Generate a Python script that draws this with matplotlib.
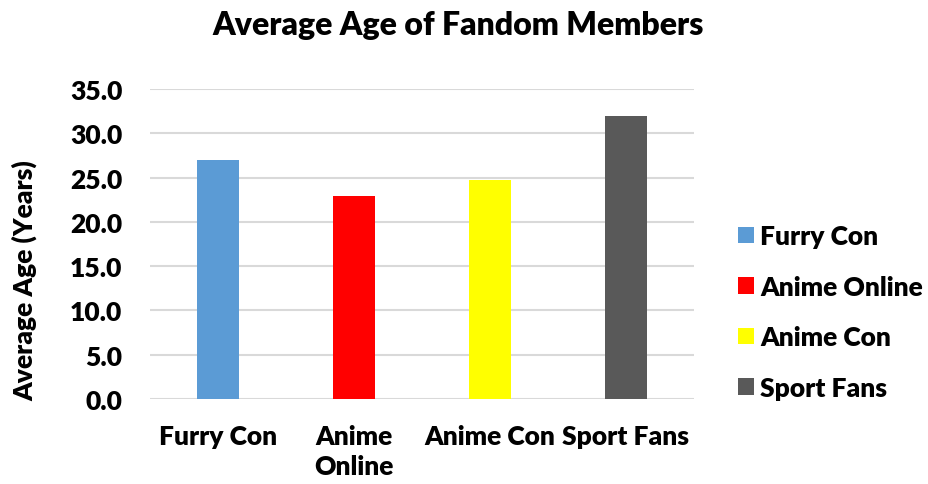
import matplotlib
matplotlib.use("Agg")
import matplotlib.pyplot as plt
from matplotlib.patches import Patch

categories = ["Furry Con", "Anime Online", "Anime Con", "Sport Fans"]
tick_labels = ["Furry Con", "Anime\nOnline", "Anime Con", "Sport Fans"]
values = [27.0, 22.9, 24.7, 32.0]
colors = ["#5B9BD5", "#FF0000", "#FFFF00", "#595959"]
yticks = [0, 5, 10, 15, 20, 25, 30, 35]

plt.rcParams['font.family'] = ['Lato', 'DejaVu Sans']
W = 'heavy'
FS = 19

fig = plt.figure(figsize=(9.29, 4.85), dpi=100)
ax = fig.add_axes([150/929, 1-400/485, 544/929, 310/485])

x = list(range(len(categories)))
ax.bar(x, values, width=0.31, color=colors, zorder=3)
ax.set_xlim(-0.5, len(categories) - 0.5)
ax.set_ylim(0, 35)
ax.set_yticks(yticks)
ax.set_yticklabels([f"{v:.1f}" for v in yticks], fontsize=FS, fontweight=W)
ax.set_xticks(x)
ax.set_xticklabels(tick_labels, fontsize=FS, fontweight=W, linespacing=1.3)
ax.tick_params(axis='both', length=0)
ax.tick_params(axis='y', pad=20)
ax.tick_params(axis='x', pad=18)
ax.grid(axis='y', color='#D9D9D9', linewidth=1.5, zorder=0)
for s in ax.spines.values():
    s.set_visible(False)

fig.text(458/929, 1-25/485, "Average Age of Fandom Members", ha='center', va='center',
         fontsize=23, fontweight=W)
fig.text(25/929, 1-281/485, "Average Age (Years)", rotation=90, ha='center', va='center',
         fontsize=FS, fontweight=W)

handles = [Patch(facecolor=c, edgecolor='none') for c in colors]
leg = fig.legend(handles, categories, loc='center left', bbox_to_anchor=(714/929, 1-313/485),
                 frameon=False, handlelength=0.6, handleheight=0.6,
                 handletextpad=0.25, labelspacing=1.0, prop={'weight': W, 'size': FS})

fig.savefig("out.png", dpi=100)
